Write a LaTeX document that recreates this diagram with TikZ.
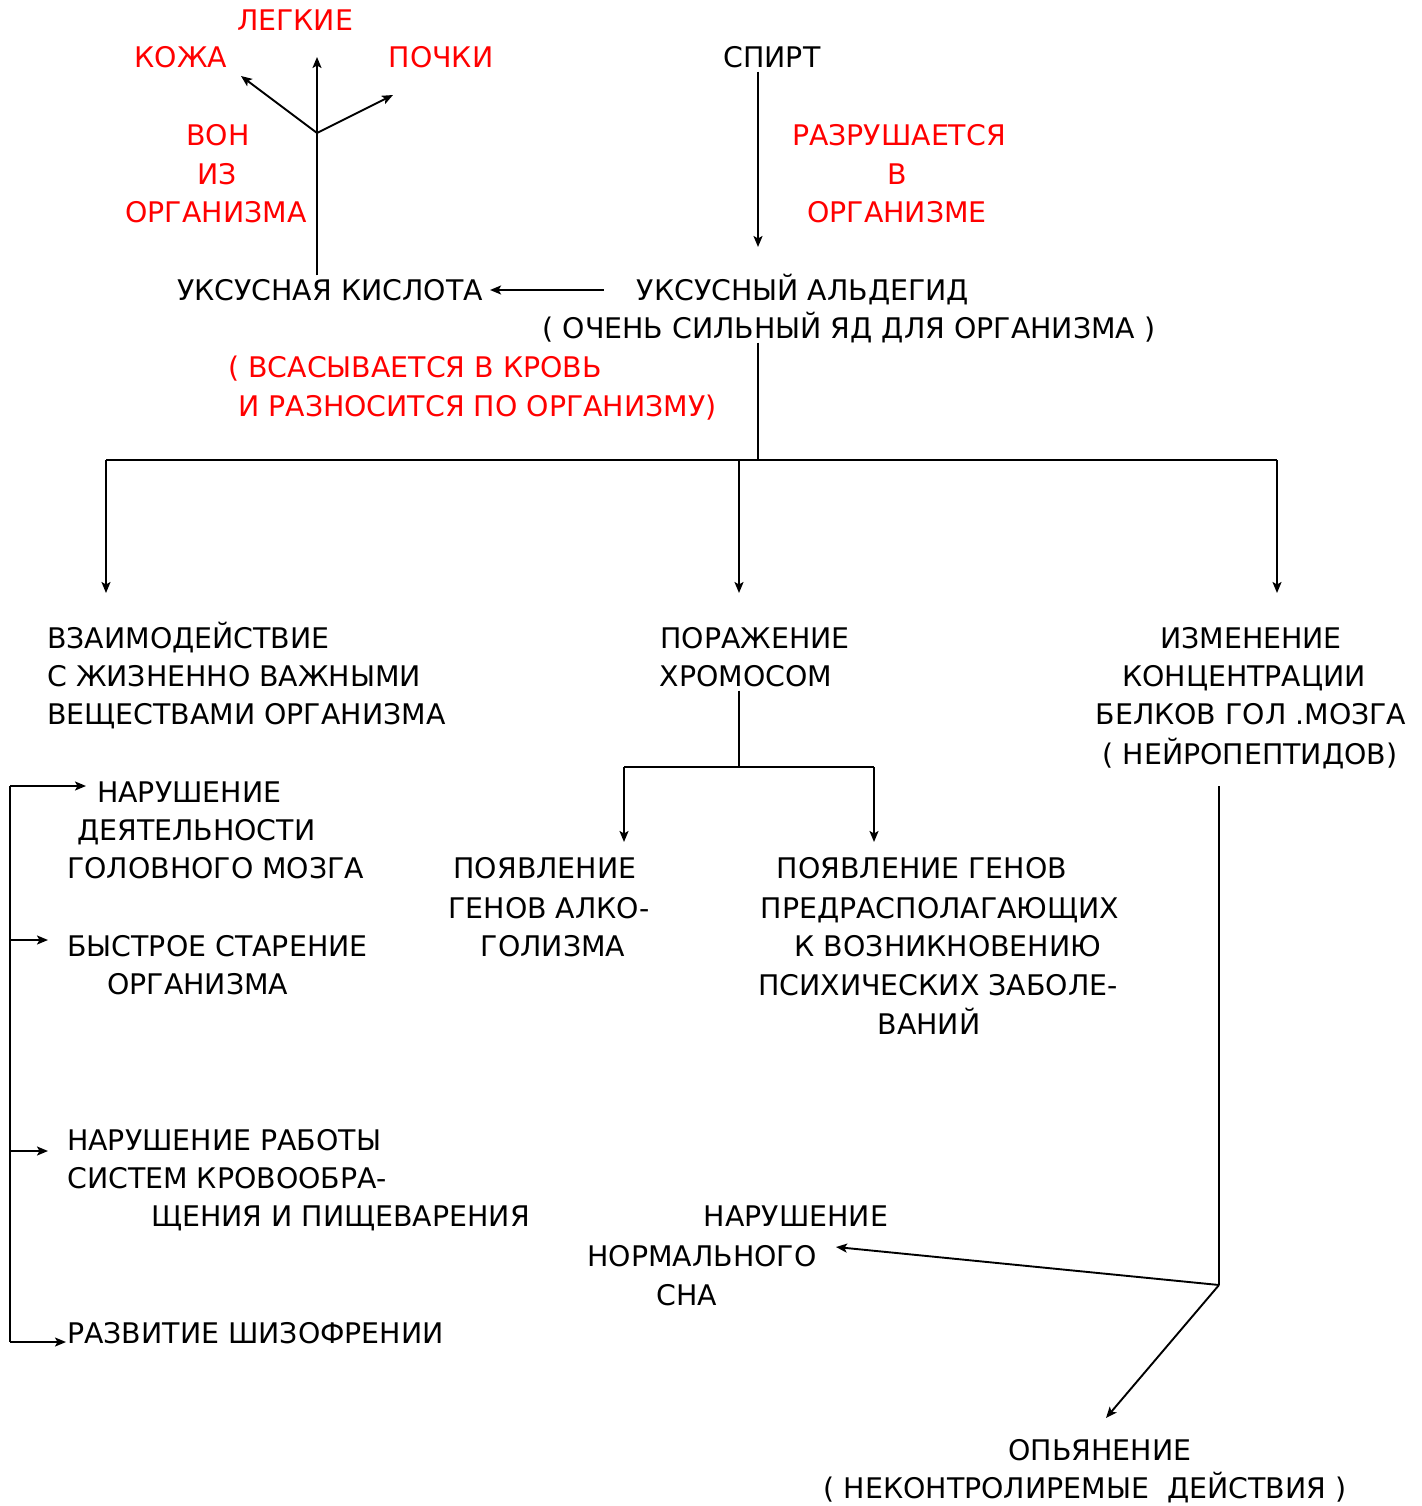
\documentclass[tikz,border=0pt]{standalone}
\usepackage{fontspec}
\setmainfont{DejaVu Sans}
\usetikzlibrary{arrows.meta}
\definecolor{rd}{RGB}{255,0,0}
\begin{document}
\begin{tikzpicture}[x=1pt,y=-1pt,
  every node/.style={inner xsep=0pt,inner ysep=4pt,text height=21pt,text depth=0pt,font=\fontsize{28.4}{35}\selectfont},
  bk/.style={text=black},
  rt/.style={text=rd},
  ln/.style={line width=1.9pt,black},
  arr/.style={ln,-{Stealth[length=11pt,width=9pt,inset=2.5pt]}}]
\useasboundingbox[fill=white] (0,0) rectangle (1421,1506);
% red top-left
\node[rt] (legk) at (295,20) {ЛЕГКИЕ};
\node[rt] (kozha) at (181,57) {КОЖА};
\node[rt] (pochki) at (441,57) {ПОЧКИ};
\node[rt] (von1) at (218,135) {ВОН};
\node[rt] (von2) at (217,174) {ИЗ};
\node[rt] (von3) at (216,212) {ОРГАНИЗМА};
% top right
\node[bk] (spirt) at (772,57) {СПИРТ};
\node[rt] (razr1) at (899,135) {РАЗРУШАЕТСЯ};
\node[rt] (razr2) at (897,174) {В};
\node[rt] (razr3) at (897,212) {ОРГАНИЗМЕ};
\node[bk] (kisl) at (330,290) {УКСУСНАЯ КИСЛОТА};
\node[bk] (ald) at (803,290) {УКСУСНЫЙ АЛЬДЕГИД};
\node[bk] (ochen) at (849,328) {( ОЧЕНЬ СИЛЬНЫЙ ЯД ДЛЯ ОРГАНИЗМА )};
\node[rt,anchor=west] (vsas1) at (228,367) {( ВСАСЫВАЕТСЯ В КРОВЬ};
\node[rt,anchor=west] (vsas2) at (238,406) {И РАЗНОСИТСЯ ПО ОРГАНИЗМУ)};
% level 2
\node[bk,anchor=west] (vz1) at (47,638) {ВЗАИМОДЕЙСТВИЕ};
\node[bk,anchor=west] (vz2) at (47,676) {С ЖИЗНЕННО ВАЖНЫМИ};
\node[bk,anchor=west] (vz3) at (47,714) {ВЕЩЕСТВАМИ ОРГАНИЗМА};
\node[bk] (por1) at (755,638) {ПОРАЖЕНИЕ};
\node[bk] (por2) at (746,676) {ХРОМОСОМ};
\node[bk] (izm1) at (1251,638) {ИЗМЕНЕНИЕ};
\node[bk] (izm2) at (1244,676) {КОНЦЕНТРАЦИИ};
\node[bk] (izm3) at (1251,714) {БЕЛКОВ ГОЛ .МОЗГА};
\node[bk] (izm4) at (1250,754) {( НЕЙРОПЕПТИДОВ)};
% left list
\node[bk,anchor=west] (nd1) at (97,792) {НАРУШЕНИЕ};
\node[bk,anchor=west] (nd2) at (77,830) {ДЕЯТЕЛЬНОСТИ};
\node[bk,anchor=west] (nd3) at (67,868) {ГОЛОВНОГО МОЗГА};
\node[bk,anchor=west] (bs1) at (67,946) {БЫСТРОЕ СТАРЕНИЕ};
\node[bk,anchor=west] (bs2) at (107,984) {ОРГАНИЗМА};
\node[bk,anchor=west] (nr1) at (67,1140) {НАРУШЕНИЕ РАБОТЫ};
\node[bk,anchor=west] (nr2) at (67,1178) {СИСТЕМ КРОВООБРА-};
\node[bk,anchor=west] (nr3) at (151,1216) {ЩЕНИЯ И ПИЩЕВАРЕНИЯ};
\node[bk,anchor=west] (shiz) at (67,1333) {РАЗВИТИЕ ШИЗОФРЕНИИ};
% chromosome children
\node[bk] (pa1) at (545,868) {ПОЯВЛЕНИЕ};
\node[bk] (pa2) at (549,908) {ГЕНОВ АЛКО-};
\node[bk] (pa3) at (553,946) {ГОЛИЗМА};
\node[bk] (pg1) at (922,868) {ПОЯВЛЕНИЕ ГЕНОВ};
\node[bk] (pg2) at (940,908) {ПРЕДРАСПОЛАГАЮЩИХ};
\node[bk] (pg3) at (948,946) {К ВОЗНИКНОВЕНИЮ};
\node[bk] (pg4) at (938,985) {ПСИХИЧЕСКИХ ЗАБОЛЕ-};
\node[bk] (pg5) at (929,1024) {ВАНИЙ};
% right bottom
\node[bk] (ns1) at (796,1216) {НАРУШЕНИЕ};
\node[bk] (ns2) at (702,1256) {НОРМАЛЬНОГО};
\node[bk] (ns3) at (687,1295) {СНА};
\node[bk] (op1) at (1100,1450) {ОПЬЯНЕНИЕ};
\node[bk] (op2) at (1085,1488) {( НЕКОНТРОЛИРЕМЫЕ\ \ ДЕЙСТВИЯ )};
% coordinates
\coordinate (jA) at (317,133);
\coordinate (tLeg) at (317,57);
\coordinate (tKoz) at (241,76);
\coordinate (tPoc) at (393,95);
\coordinate (bus) at (758,460);
\coordinate (chr) at (739,767);
\coordinate (jR) at (1219,1285);
\coordinate (tNd) at (86,786);
% connectors
\draw[ln] (317,0 |- kisl.north) -- (jA);
\draw[arr] (jA) -- (tLeg);
\draw[arr] (jA) -- (tKoz);
\draw[arr] (jA) -- (tPoc);
\draw[arr] (758,0 |- spirt.south) -- (758,247);
\draw[arr] ([xshift=-33pt]ald.west) -- ([xshift=7pt]kisl.east);
\draw[ln] (758,0 |- ochen.south) -- (bus);
\draw[ln] (106,460) -- (1277,460);
\draw[arr] (106,460) -- (106,593);
\draw[arr] (739,460) -- (739,593);
\draw[arr] (1277,460) -- (1277,593);
\draw[ln] (739,0 |- por2.south) -- (chr);
\draw[ln] (624,767) -- (874,767);
\draw[arr] (624,767) -- (624,842);
\draw[arr] (874,767) -- (874,842);
\draw[ln] (10,786) -- (10,1342);
\draw[arr] (10,786) -- (tNd);
\draw[arr] (10,940) -- (48,940);
\draw[arr] (10,1151) -- (48,1151);
\draw[arr] (10,1342) -- (66,1342);
\draw[ln] (1219,786) -- (jR);
\draw[arr] (jR) -- (836,1247);
\draw[arr] (jR) -- (1106,1418);
\end{tikzpicture}
\end{document}
